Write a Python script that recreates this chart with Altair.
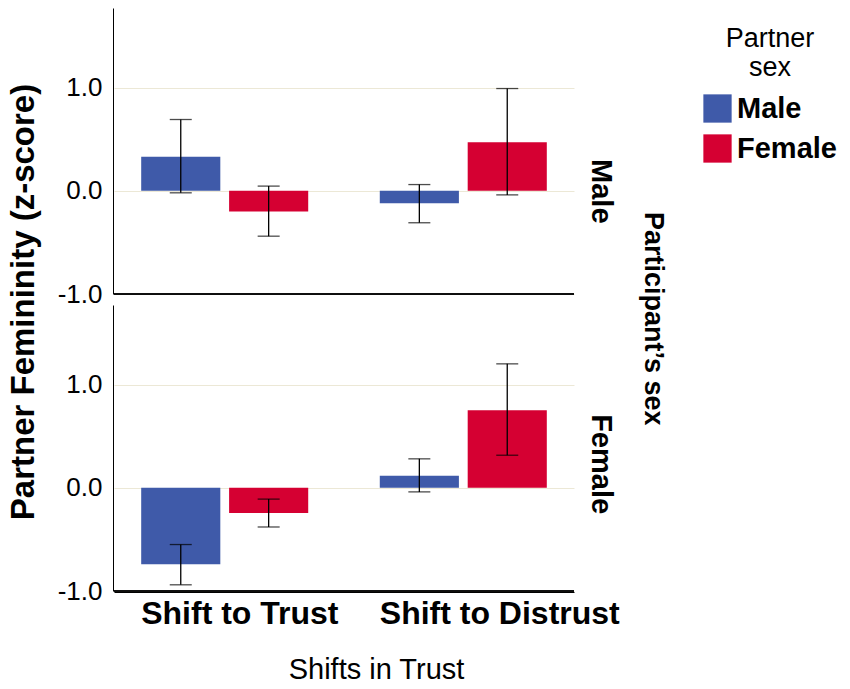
import altair as alt
import pandas as pd

participants = ["Male", "Male", "Male", "Male", "Female", "Female", "Female", "Female"]
shifts = ["Shift to Trust", "Shift to Trust", "Shift to Distrust", "Shift to Distrust"] * 2
partners = ["Male", "Female"] * 4
means = [0.33, -0.20, -0.12, 0.47, -0.74, -0.245, 0.116, 0.75]
ci_low = [-0.02, -0.44, -0.31, -0.04, -0.94, -0.38, -0.04, 0.315]
ci_high = [0.69, 0.045, 0.06, 0.99, -0.55, -0.11, 0.28, 1.20]

shift_order = ["Shift to Trust", "Shift to Distrust"]
sex_order = ["Male", "Female"]
colors = ["#3f5aa9", "#d50032"]

df = pd.DataFrame({
    "participant": participants,
    "shift": shifts,
    "partner": partners,
    "mean": means,
    "lo": ci_low,
    "hi": ci_high,
})

FONT = "Liberation Sans"
NB = "\u00a0"
ZW = "\u200b"

x_enc = alt.X(
    "shift:N",
    sort=shift_order,
    scale=alt.Scale(paddingInner=0.30, paddingOuter=0.114),
    axis=alt.Axis(
        title="Shifts in Trust",
        labelAngle=0,
        labelAlign="left",
        labelOffset=-83.5,
        labelLimit=400,
        labelFontSize=32,
        labelFontWeight="bold",
        labelColor="black",
        labelPadding=6,
        ticks=False,
        domainColor="black",
        titleFontSize=29,
        titleFontWeight="normal",
        titleColor="black",
        titlePadding=26,
        titleX=262,
    ),
)
xoff_enc = alt.XOffset(
    "partner:N", sort=sex_order, scale=alt.Scale(paddingInner=0.1, paddingOuter=0)
)
y_scale = alt.Scale(domain=[-1, 1.77], nice=False, zero=False)
y_axis = alt.Axis(
    values=[-1, 0, 1],
    labelExpr="(datum.value < 0 ? '-' : '') + format(abs(datum.value), '.1f')",
    title=None,
    labelFontSize=26,
    labelColor="black",
    labelPadding=11,
    ticks=False,
    domainColor="black",
    grid=True,
    gridColor="#ece8d6",
    gridWidth=1,
)

color_enc = alt.Color(
    "partner:N",
    sort=sex_order,
    scale=alt.Scale(domain=sex_order, range=colors),
    legend=alt.Legend(
        title=["Partner", "sex"],
        orient="none",
        legendX=589,
        legendY=18,
        symbolType="square",
        symbolSize=800,
        symbolStrokeWidth=0,
        symbolOpacity=1,
        labelFontSize=29,
        labelFontWeight="bold",
        labelColor="black",
        labelOffset=5,
        titleFontSize=27,
        titleFontWeight="normal",
        titleColor="black",
        titleAlign="center",
        titleAnchor="middle",
        titleLineHeight=29,
        titlePadding=12,
        rowPadding=10,
        padding=0,
    ),
)

bars = alt.Chart().mark_bar(opacity=1).encode(
    x=x_enc,
    xOffset=xoff_enc,
    y=alt.Y("mean:Q", scale=y_scale, axis=y_axis),
    y2=alt.datum(0),
    color=color_enc,
)
err = alt.Chart().mark_rule(color="black", strokeWidth=1.3).encode(
    x=x_enc, xOffset=xoff_enc, y="lo:Q", y2="hi:Q"
)
cap_lo = alt.Chart().mark_tick(color="black", size=22, thickness=1.3).encode(
    x=x_enc, xOffset=xoff_enc, y="lo:Q"
)
cap_hi = alt.Chart().mark_tick(color="black", size=22, thickness=1.3).encode(
    x=x_enc, xOffset=xoff_enc, y="hi:Q"
)
base_line = alt.Chart().mark_rule(color="black", strokeWidth=1).encode(
    y=alt.datum(-1)
)

layered = alt.layer(bars, err, cap_lo, cap_hi, base_line, data=df).properties(
    width=460, height=286
)

row_label_expr = (
    "datum.value == 'Male' ? '" + ZW + NB * 10 + "Male' : '"
    + ZW + NB * 4 + "' + datum.value"
)

chart = layered.facet(
    row=alt.Row(
        "participant:N",
        sort=sex_order,
        header=alt.Header(
            title=ZW + NB * 5 + "Participant\u2019s sex",
            titleOrient="right",
            labelOrient="right",
            labelAngle=90,
            titleAngle=90,
            labelExpr=row_label_expr,
            labelFontSize=29,
            labelFontWeight="bold",
            labelColor="black",
            labelPadding=11,
            titleFontSize=27,
            titleFontWeight="bold",
            titleColor="black",
            titlePadding=14,
        ),
    ),
    spacing=10,
).properties(
    padding={"left": 0, "top": 0, "right": 0, "bottom": -3},
    title=alt.TitleParams(
        text="Partner Femininity (z-score)",
        orient="left",
        anchor="middle",
        frame="bounds",
        fontSize=33,
        fontWeight="bold",
        color="black",
        offset=16,
        dx=44,
    ),
).configure(font=FONT).configure_view(stroke=None)

chart.save("out.html", embed_options={"renderer": "svg", "actions": False})
